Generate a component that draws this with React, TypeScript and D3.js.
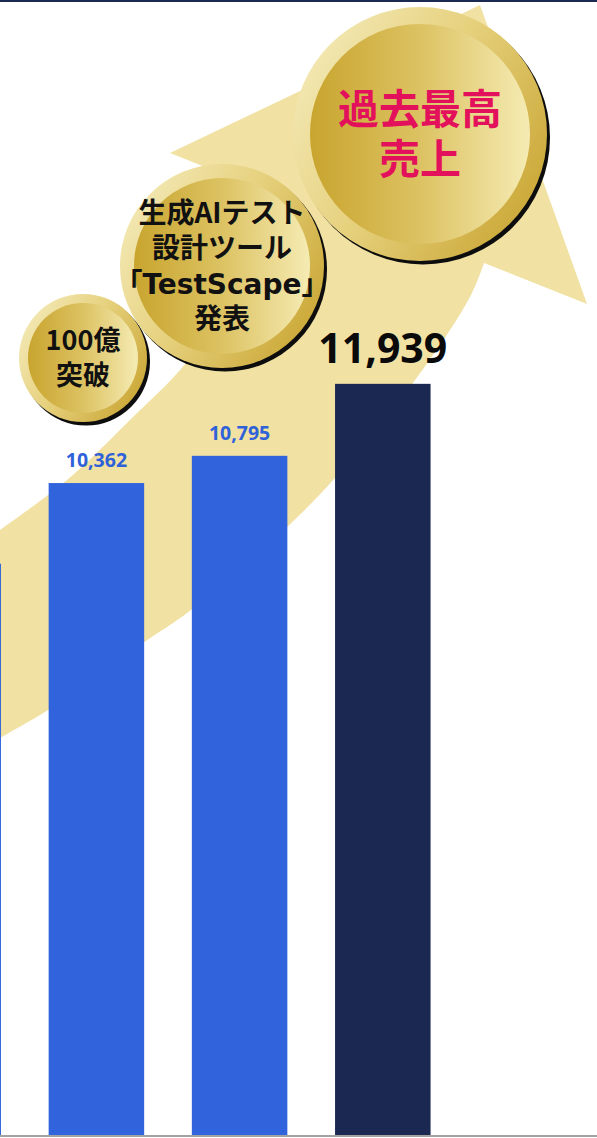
import React from "react";
import * as d3 from "d3";

// ---- data ----
const categories = ["FY2021", "FY2022", "FY2023", "FY2024"];
const revenue = [9080, 10362, 10795, 11939];
const isRecord = [false, false, false, true];
const coinTexts = [
  ["100億", "突破"],
  ["生成AIテスト", "設計ツール", "「TestScape」", "発表"],
  ["過去最高", "売上"],
];

const W = 597;
const H = 1138;

export default function App() {
  const x = d3
    .scaleBand<string>()
    .domain(categories)
    .range([-118.4, -118.4 + 4 * 143.2])
    .paddingInner(0.333)
    .paddingOuter(0.1665);
  const y = d3.scaleLinear().domain([0, 12000]).range([1135, 380]);

  // decorative arrow
  const curve = d3.line().curve(d3.curveCatmullRom.alpha(0.5));
  const upper: [number, number][] = [
    [-30, 552],
    [0, 530],
    [67, 480],
    [130, 420],
    [187, 362],
    [237, 288],
    [273, 194],
  ];
  const lower: [number, number][] = [
    [484, 263],
    [470, 297],
    [413, 383],
    [335, 478],
    [287, 527],
    [191, 610],
    [143, 643],
    [48, 710],
    [0, 738],
    [-30, 756],
  ];
  const arrowPath =
    (curve(upper) as string) +
    " L170,153 L480,5 L587,304 " +
    (curve(lower) as string).replace(/^M/, "L") +
    " Z";

  const coins = [
    { cx: 83, cy: 358, r: 64, ring: 9, size: 27, lh: 35, color: "#111", text: coinTexts[0] },
    { cx: 222, cy: 266, r: 102, ring: 14, size: 28, lh: 35.5, color: "#111", text: coinTexts[1] },
    { cx: 420, cy: 134, r: 127, ring: 17, size: 41, lh: 50, color: "#e3105c", text: coinTexts[2] },
  ];

  const cjk = "'Noto Sans CJK JP', 'Noto Sans', sans-serif";
  const wideLatin = "'DejaVu Sans', 'Noto Sans CJK JP', sans-serif";
  const num = "'Open Sans', 'Noto Sans', sans-serif";

  return (
    <svg
      width={W}
      height={H}
      style={{ position: "absolute", left: 0, top: 0, display: "block", background: "#fff" }}
    >
      <defs>
        <linearGradient id="ringGrad" x1="0" y1="0.2" x2="1" y2="0.8">
          <stop offset="0" stopColor="#f4eab8" />
          <stop offset="0.45" stopColor="#e6d17e" />
          <stop offset="1" stopColor="#c9a532" />
        </linearGradient>
        <linearGradient id="discGrad" x1="0" y1="0" x2="1" y2="0">
          <stop offset="0" stopColor="#c9a52f" />
          <stop offset="0.5" stopColor="#dcc262" />
          <stop offset="1" stopColor="#f5ebb3" />
        </linearGradient>
      </defs>

      <rect x={0} y={0} width={W} height={H} fill="#fff" />

      {/* arrow */}
      <path d={arrowPath} fill="#f1e1a3" />

      {/* bars */}
      {categories.map((c, i) => (
        <rect
          key={c}
          x={x(c)}
          y={y(revenue[i])}
          width={x.bandwidth()}
          height={y(0) - y(revenue[i])}
          fill={isRecord[i] ? "#1b2851" : "#3163dc"}
        />
      ))}

      {/* value labels (only for bars whose centre lies in view) */}
      {categories.map((c, i) => {
        const cx = (x(c) as number) + x.bandwidth() / 2;
        if (cx < 0) return null;
        return (
          <text
            key={c + "-l"}
            x={cx}
            y={y(revenue[i]) - (isRecord[i] ? 21 : 16)}
            textAnchor="middle"
            fontFamily={num}
            fontWeight={700}
            fontSize={isRecord[i] ? 41 : 19.5}
            fill={isRecord[i] ? "#0a0a0a" : "#2f62d9"}
          >
            {d3.format(",")(revenue[i])}
          </text>
        );
      })}

      {/* baseline & top rule */}
      <rect x={0} y={1135} width={W} height={2} fill="#a3a3a3" />
      <rect x={0} y={0} width={W} height={2} fill="#1b2a52" />

      {/* coins */}
      {coins.map((k, i) => (
        <g key={"coin" + i}>
          <circle cx={k.cx + 3} cy={k.cy + 3.5} r={k.r} fill="#0d0d0d" />
          <circle cx={k.cx} cy={k.cy} r={k.r} fill="url(#ringGrad)" />
          <circle cx={k.cx} cy={k.cy} r={k.r - k.ring} fill="url(#discGrad)" />
          {k.text.map((t, j) => {
            const latin = t.startsWith("「");
            return (
              <text
                key={j}
                x={k.cx}
                y={k.cy + (j - (k.text.length - 1) / 2) * k.lh}
                dy="0.36em"
                textAnchor="middle"
                fontFamily={latin ? wideLatin : cjk}
                fontWeight={700}
                fontSize={latin ? 28 : k.size}
                fill={k.color}
              >
                {t}
              </text>
            );
          })}
        </g>
      ))}
    </svg>
  );
}
